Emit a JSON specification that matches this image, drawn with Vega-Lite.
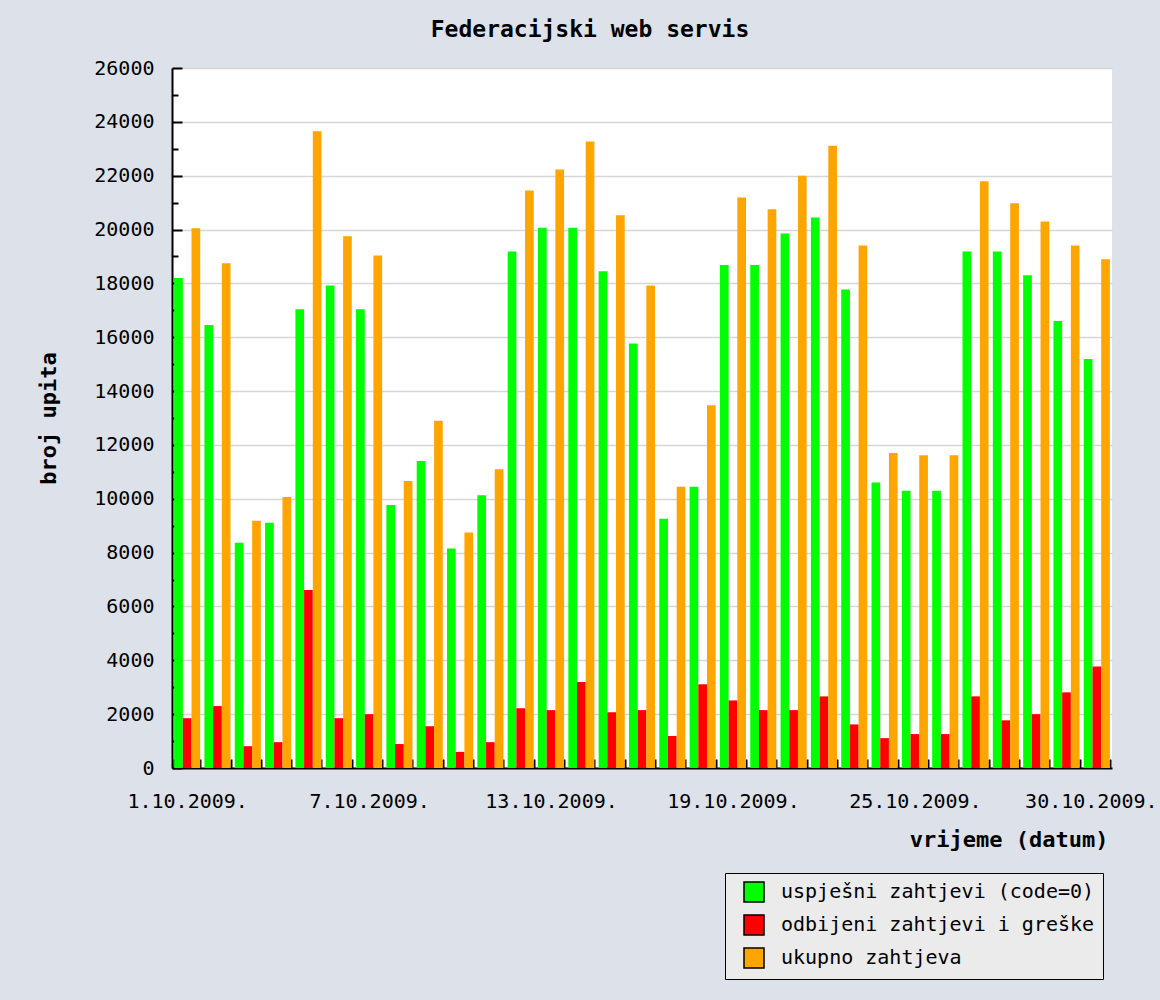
{
  "$schema": "https://vega.github.io/schema/vega-lite/v6.json",
  "autosize": {"type": "none"},
  "width": 940,
  "height": 700,
  "padding": {"left": 172, "top": 68, "right": 48, "bottom": 232},
  "background": "#dde1e9",
  "title": {
    "text": "Federacijski web servis",
    "font": "DejaVu Sans Mono",
    "fontSize": 23,
    "fontWeight": "bold",
    "color": "black",
    "anchor": "middle",
    "frame": "group",
    "dx": -52,
    "offset": 16
  },
  "config": {"view": {"stroke": null, "fill": "white"}},
  "data": {
    "values": [
      {"dan": 1, "serija": "uspješni zahtjevi (code=0)", "broj": 18200}, {"dan": 1, "serija": "odbijeni zahtjevi i greške", "broj": 1850}, {"dan": 1, "serija": "ukupno zahtjeva", "broj": 20050},
      {"dan": 2, "serija": "uspješni zahtjevi (code=0)", "broj": 16450}, {"dan": 2, "serija": "odbijeni zahtjevi i greške", "broj": 2300}, {"dan": 2, "serija": "ukupno zahtjeva", "broj": 18750},
      {"dan": 3, "serija": "uspješni zahtjevi (code=0)", "broj": 8370}, {"dan": 3, "serija": "odbijeni zahtjevi i greške", "broj": 810}, {"dan": 3, "serija": "ukupno zahtjeva", "broj": 9180},
      {"dan": 4, "serija": "uspješni zahtjevi (code=0)", "broj": 9110}, {"dan": 4, "serija": "odbijeni zahtjevi i greške", "broj": 960}, {"dan": 4, "serija": "ukupno zahtjeva", "broj": 10070},
      {"dan": 5, "serija": "uspješni zahtjevi (code=0)", "broj": 17040}, {"dan": 5, "serija": "odbijeni zahtjevi i greške", "broj": 6610}, {"dan": 5, "serija": "ukupno zahtjeva", "broj": 23650},
      {"dan": 6, "serija": "uspješni zahtjevi (code=0)", "broj": 17920}, {"dan": 6, "serija": "odbijeni zahtjevi i greške", "broj": 1850}, {"dan": 6, "serija": "ukupno zahtjeva", "broj": 19750},
      {"dan": 7, "serija": "uspješni zahtjevi (code=0)", "broj": 17040}, {"dan": 7, "serija": "odbijeni zahtjevi i greške", "broj": 2000}, {"dan": 7, "serija": "ukupno zahtjeva", "broj": 19040},
      {"dan": 8, "serija": "uspješni zahtjevi (code=0)", "broj": 9770}, {"dan": 8, "serija": "odbijeni zahtjevi i greške", "broj": 890}, {"dan": 8, "serija": "ukupno zahtjeva", "broj": 10660},
      {"dan": 9, "serija": "uspješni zahtjevi (code=0)", "broj": 11400}, {"dan": 9, "serija": "odbijeni zahtjevi i greške", "broj": 1550}, {"dan": 9, "serija": "ukupno zahtjeva", "broj": 12900},
      {"dan": 10, "serija": "uspješni zahtjevi (code=0)", "broj": 8150}, {"dan": 10, "serija": "odbijeni zahtjevi i greške", "broj": 600}, {"dan": 10, "serija": "ukupno zahtjeva", "broj": 8750},
      {"dan": 11, "serija": "uspješni zahtjevi (code=0)", "broj": 10130}, {"dan": 11, "serija": "odbijeni zahtjevi i greške", "broj": 960}, {"dan": 11, "serija": "ukupno zahtjeva", "broj": 11100},
      {"dan": 12, "serija": "uspješni zahtjevi (code=0)", "broj": 19180}, {"dan": 12, "serija": "odbijeni zahtjevi i greške", "broj": 2220}, {"dan": 12, "serija": "ukupno zahtjeva", "broj": 21450},
      {"dan": 13, "serija": "uspješni zahtjevi (code=0)", "broj": 20070}, {"dan": 13, "serija": "odbijeni zahtjevi i greške", "broj": 2150}, {"dan": 13, "serija": "ukupno zahtjeva", "broj": 22230},
      {"dan": 14, "serija": "uspješni zahtjevi (code=0)", "broj": 20070}, {"dan": 14, "serija": "odbijeni zahtjevi i greške", "broj": 3190}, {"dan": 14, "serija": "ukupno zahtjeva", "broj": 23270},
      {"dan": 15, "serija": "uspješni zahtjevi (code=0)", "broj": 18450}, {"dan": 15, "serija": "odbijeni zahtjevi i greške", "broj": 2070}, {"dan": 15, "serija": "ukupno zahtjeva", "broj": 20530},
      {"dan": 16, "serija": "uspješni zahtjevi (code=0)", "broj": 15770}, {"dan": 16, "serija": "odbijeni zahtjevi i greške", "broj": 2150}, {"dan": 16, "serija": "ukupno zahtjeva", "broj": 17920},
      {"dan": 17, "serija": "uspješni zahtjevi (code=0)", "broj": 9260}, {"dan": 17, "serija": "odbijeni zahtjevi i greške", "broj": 1190}, {"dan": 17, "serija": "ukupno zahtjeva", "broj": 10450},
      {"dan": 18, "serija": "uspješni zahtjevi (code=0)", "broj": 10450}, {"dan": 18, "serija": "odbijeni zahtjevi i greške", "broj": 3110}, {"dan": 18, "serija": "ukupno zahtjeva", "broj": 13470},
      {"dan": 19, "serija": "uspješni zahtjevi (code=0)", "broj": 18680}, {"dan": 19, "serija": "odbijeni zahtjevi i greške", "broj": 2510}, {"dan": 19, "serija": "ukupno zahtjeva", "broj": 21190},
      {"dan": 20, "serija": "uspješni zahtjevi (code=0)", "broj": 18680}, {"dan": 20, "serija": "odbijeni zahtjevi i greške", "broj": 2150}, {"dan": 20, "serija": "ukupno zahtjeva", "broj": 20750},
      {"dan": 21, "serija": "uspješni zahtjevi (code=0)", "broj": 19850}, {"dan": 21, "serija": "odbijeni zahtjevi i greške", "broj": 2150}, {"dan": 21, "serija": "ukupno zahtjeva", "broj": 22000},
      {"dan": 22, "serija": "uspješni zahtjevi (code=0)", "broj": 20450}, {"dan": 22, "serija": "odbijeni zahtjevi i greške", "broj": 2660}, {"dan": 22, "serija": "ukupno zahtjeva", "broj": 23110},
      {"dan": 23, "serija": "uspješni zahtjevi (code=0)", "broj": 17770}, {"dan": 23, "serija": "odbijeni zahtjevi i greške", "broj": 1620}, {"dan": 23, "serija": "ukupno zahtjeva", "broj": 19410},
      {"dan": 24, "serija": "uspješni zahtjevi (code=0)", "broj": 10600}, {"dan": 24, "serija": "odbijeni zahtjevi i greške", "broj": 1110}, {"dan": 24, "serija": "ukupno zahtjeva", "broj": 11700},
      {"dan": 25, "serija": "uspješni zahtjevi (code=0)", "broj": 10300}, {"dan": 25, "serija": "odbijeni zahtjevi i greške", "broj": 1260}, {"dan": 25, "serija": "ukupno zahtjeva", "broj": 11620},
      {"dan": 26, "serija": "uspješni zahtjevi (code=0)", "broj": 10300}, {"dan": 26, "serija": "odbijeni zahtjevi i greške", "broj": 1260}, {"dan": 26, "serija": "ukupno zahtjeva", "broj": 11620},
      {"dan": 27, "serija": "uspješni zahtjevi (code=0)", "broj": 19180}, {"dan": 27, "serija": "odbijeni zahtjevi i greške", "broj": 2660}, {"dan": 27, "serija": "ukupno zahtjeva", "broj": 21790},
      {"dan": 28, "serija": "uspješni zahtjevi (code=0)", "broj": 19180}, {"dan": 28, "serija": "odbijeni zahtjevi i greške", "broj": 1770}, {"dan": 28, "serija": "ukupno zahtjeva", "broj": 20980},
      {"dan": 29, "serija": "uspješni zahtjevi (code=0)", "broj": 18300}, {"dan": 29, "serija": "odbijeni zahtjevi i greške", "broj": 2000}, {"dan": 29, "serija": "ukupno zahtjeva", "broj": 20300},
      {"dan": 30, "serija": "uspješni zahtjevi (code=0)", "broj": 16600}, {"dan": 30, "serija": "odbijeni zahtjevi i greške", "broj": 2810}, {"dan": 30, "serija": "ukupno zahtjeva", "broj": 19410},
      {"dan": 31, "serija": "uspješni zahtjevi (code=0)", "broj": 15190}, {"dan": 31, "serija": "odbijeni zahtjevi i greške", "broj": 3770}, {"dan": 31, "serija": "ukupno zahtjeva", "broj": 18900}
    ]
  },
  "layer": [
    {
      "mark": {"type": "bar", "opacity": 0},
      "encoding": {
        "x": {
          "field": "dan",
          "type": "ordinal",
          "scale": {"paddingInner": 0.14, "paddingOuter": 0.07},
          "axis": {
            "title": "vrijeme (datum)",
            "titleFont": "DejaVu Sans Mono",
            "titleFontSize": 22,
            "titleFontWeight": "bold",
            "titleColor": "black",
            "titleAnchor": "end",
            "titleAlign": "right",
            "titleBaseline": "alphabetic",
            "titleX": 936,
            "titleY": 78,
            "labelExpr": "datum.value == 31 ? '30.10.2009.' : ((datum.value - 1) % 6 == 0 ? datum.value + '.10.2009.' : '')",
            "labelAngle": 0,
            "labelFont": "DejaVu Sans Mono",
            "labelFontSize": 20,
            "labelColor": "black",
            "labelPadding": 32,
            "labelOffset": {"condition": {"test": "datum.value == 31", "value": -6}, "value": 0},
            "labelOverlap": false,
            "labelBound": false,
            "labelFlush": false,
            "tickBand": "extent",
            "tickSize": -9,
            "tickColor": "black",
            "tickWidth": 2,
            "domainColor": "black",
            "domainWidth": 2
          }
        },
        "xOffset": {
          "field": "serija",
          "type": "nominal",
          "scale": {"domain": ["uspješni zahtjevi (code=0)", "odbijeni zahtjevi i greške", "ukupno zahtjeva"], "paddingInner": 0, "paddingOuter": 0}
        },
        "y": {
          "field": "broj",
          "type": "quantitative",
          "scale": {"domain": [0, 26000], "nice": false},
          "axis": {
            "orient": "left",
            "values": [1000, 3000, 5000, 7000, 9000, 11000, 13000, 15000, 17000, 19000, 21000, 23000, 25000],
            "labels": false,
            "domain": false,
            "grid": false,
            "title": null,
            "tickSize": -6,
            "tickColor": "black",
            "tickWidth": 2
          }
        }
      }
    },
    {
      "mark": {"type": "bar"},
      "encoding": {
        "x": {
          "field": "dan",
          "type": "ordinal",
          "scale": {"paddingInner": 0.14, "paddingOuter": 0.07},
          "axis": {
            "title": "vrijeme (datum)",
            "titleFont": "DejaVu Sans Mono",
            "titleFontSize": 22,
            "titleFontWeight": "bold",
            "titleColor": "black",
            "titleAnchor": "end",
            "titleAlign": "right",
            "titleBaseline": "alphabetic",
            "titleX": 936,
            "titleY": 78,
            "labelExpr": "datum.value == 31 ? '30.10.2009.' : ((datum.value - 1) % 6 == 0 ? datum.value + '.10.2009.' : '')",
            "labelAngle": 0,
            "labelFont": "DejaVu Sans Mono",
            "labelFontSize": 20,
            "labelColor": "black",
            "labelPadding": 32,
            "labelOffset": {"condition": {"test": "datum.value == 31", "value": -6}, "value": 0},
            "labelOverlap": false,
            "labelBound": false,
            "labelFlush": false,
            "tickBand": "extent",
            "tickSize": -9,
            "tickColor": "black",
            "tickWidth": 2,
            "domainColor": "black",
            "domainWidth": 2
          }
        },
        "xOffset": {
          "field": "serija",
          "type": "nominal",
          "scale": {"domain": ["uspješni zahtjevi (code=0)", "odbijeni zahtjevi i greške", "ukupno zahtjeva"], "paddingInner": 0, "paddingOuter": 0}
        },
        "y": {
          "field": "broj",
          "type": "quantitative",
          "scale": {"domain": [0, 26000], "nice": false},
          "axis": {
            "orient": "left",
            "values": [0, 2000, 4000, 6000, 8000, 10000, 12000, 14000, 16000, 18000, 20000, 22000, 24000, 26000],
            "format": "d",
            "title": "broj upita",
            "titleFont": "DejaVu Sans Mono",
            "titleFontSize": 22,
            "titleFontWeight": "bold",
            "titleColor": "black",
            "titleAngle": 270,
            "titleX": -124,
            "titleY": 350,
            "titleAlign": "center",
            "titleBaseline": "middle",
            "labelFont": "DejaVu Sans Mono",
            "labelFontSize": 20,
            "labelColor": "black",
            "labelPadding": 28,
            "labelOverlap": false,
            "labelBound": false,
            "labelFlush": false,
            "tickSize": -10,
            "tickColor": "black",
            "tickWidth": 2,
            "domainColor": "black",
            "domainWidth": 2,
            "grid": true,
            "gridColor": "#d6d6d6",
            "gridWidth": 1.5
          }
        },
        "color": {
          "field": "serija",
          "type": "nominal",
          "scale": {"domain": ["uspješni zahtjevi (code=0)", "odbijeni zahtjevi i greške", "ukupno zahtjeva"], "range": ["#00ff00", "#ff0000", "#ffa500"]},
          "legend": {
            "orient": "none",
            "legendX": 553,
            "legendY": 805,
            "title": null,
            "fillColor": "#ebebeb",
            "strokeColor": "black",
            "padding": 8,
            "symbolOffset": 10,
            "symbolType": "square",
            "symbolSize": 400,
            "symbolStrokeColor": "black",
            "symbolStrokeWidth": 1.5,
            "symbolOpacity": 1,
            "labelFont": "DejaVu Sans Mono",
            "labelFontSize": 20,
            "labelColor": "black",
            "labelOffset": 16,
            "labelLimit": 500,
            "rowPadding": 7
          }
        }
      }
    }
  ],
  "resolve": {"axis": {"y": "independent"}}
}
